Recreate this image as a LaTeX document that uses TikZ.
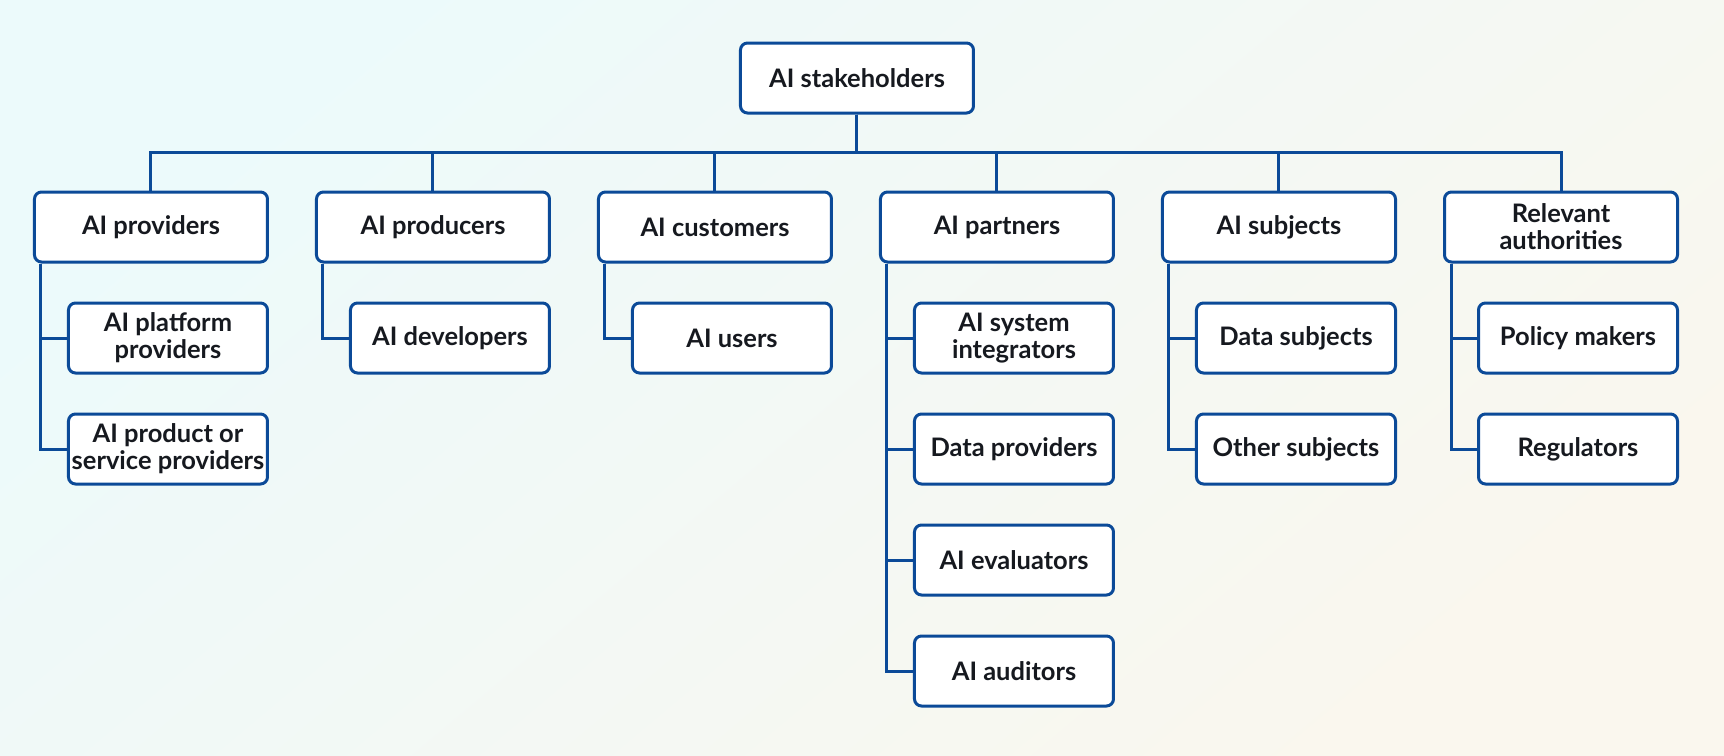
\documentclass[tikz,border=0pt]{standalone}
\usepackage{fontspec}
\setmainfont{Lato}
\usetikzlibrary{positioning, calc}
\definecolor{aiblue}{HTML}{0B4A98}
\definecolor{aiink}{HTML}{16191F}
\definecolor{bgcyan}{HTML}{ECFAFB}
\definecolor{bgcream}{HTML}{FAF7EE}
\tikzset{box/.style = {
  % Rectangle:
  rectangle,
  draw=aiblue, fill=white,
  line width = 0.6mm, rounded corners=1.4mm,
  minimum height = 1.40cm, inner sep = 0pt,
  % Text:
  text=aiink, text centered, align=center,
  font=\bfseries\fontsize{14.5}{15.5}\selectfont
  }}
\tikzset{tier/.style = {
  % Rectangle:
  box,
  minimum width = 4.66cm
  }}
\tikzset{member/.style = {
  % Rectangle:
  box,
  minimum width = 3.98cm
  }}
\tikzset{link/.style = {
  draw=aiblue,
  line width = 0.6mm
  }}
\tikzset{background/.style = {
  top color=bgcyan,
  bottom color=bgcream,
  shading angle=40
  }}
\begin{document}
\begin{tikzpicture}
  % LAYERS
  \pgfdeclarelayer{bg}
  \pgfsetlayers{bg,main}
  \useasboundingbox (-17.14,1.56) rectangle (17.34,-13.56);

  %
  % Specification of nodes
  %
  \node (root) [tier] {AI stakeholders};

  \node (partners) [tier, below right = 1.52cm and 0.44cm of root.south] {AI partners};
  \node (customers) [tier, left = 0.92cm of partners] {AI customers};
  \node (producers) [tier, left = 0.92cm of customers] {AI producers};
  \node (providers) [tier, left = 0.92cm of producers] {AI providers};
  \node (subjects) [tier, right = 0.92cm of partners] {AI subjects};
  \node (authorities) [tier, right = 0.92cm of subjects] {Relevant\\authorities};

  \node (platform) [member, below = 0.76cm of providers, xshift=3.4mm] {AI platform\\providers};
  \node (product) [member, below = 0.76cm of platform] {AI product or\\service providers};

  \node (developers) [member, below = 0.76cm of producers, xshift=3.4mm] {AI developers};

  \node (users) [member, below = 0.76cm of customers, xshift=3.4mm] {AI users};

  \node (integrators) [member, below = 0.76cm of partners, xshift=3.4mm] {AI system\\integrators};
  \node (dataprov) [member, below = 0.76cm of integrators] {Data providers};
  \node (evaluators) [member, below = 0.76cm of dataprov] {AI evaluators};
  \node (auditors) [member, below = 0.76cm of evaluators] {AI auditors};

  \node (datasubj) [member, below = 0.76cm of subjects, xshift=3.4mm] {Data subjects};
  \node (othersubj) [member, below = 0.76cm of datasubj] {Other subjects};

  \node (policy) [member, below = 0.76cm of authorities, xshift=3.4mm] {Policy makers};
  \node (regulators) [member, below = 0.76cm of policy] {Regulators};

  %
  % Specification of lines
  %
  \coordinate (bus) at ($(root.south)!0.5!(partners.north)$);
  \foreach \n in {providers, producers, customers, partners, subjects, authorities}
    \draw [link] (root.south) |- (bus -| \n.north) -- (\n.north);

  \foreach \p/\c in {providers/platform, providers/product, producers/developers,
                     customers/users, partners/integrators, partners/dataprov,
                     partners/evaluators, partners/auditors, subjects/datasubj,
                     subjects/othersubj, authorities/policy, authorities/regulators}
    \draw [link] ([xshift=1.6mm]\p.south west) |- (\c.west);

  %
  % Background
  %
  \begin{pgfonlayer}{bg}
    \shade [background] (-17.14,1.56) rectangle (17.34,-13.56);
  \end{pgfonlayer}
\end{tikzpicture}
\end{document}
